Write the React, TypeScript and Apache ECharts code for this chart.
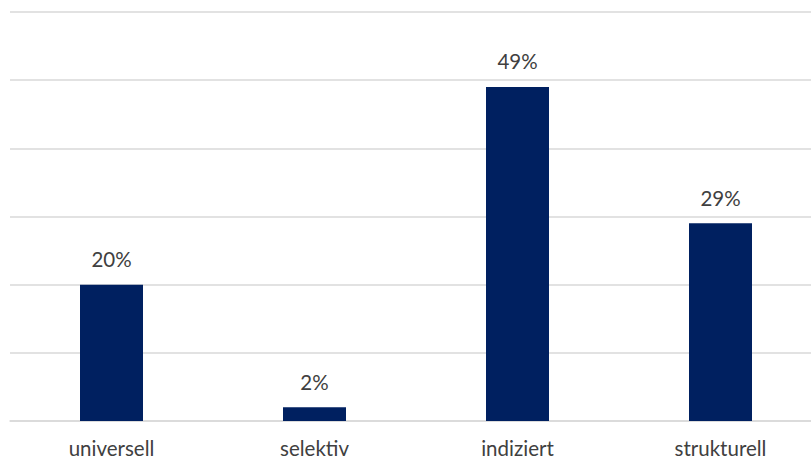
import React, { useEffect, useRef } from "react";
import * as echarts from "echarts";

const categories = ["universell", "selektiv", "indiziert", "strukturell"];
const shares = [20, 2, 49, 29];
const axisMax = 60;
const axisStep = 10;

export default function App() {
  const ref = useRef<HTMLDivElement>(null);

  useEffect(() => {
    if (!ref.current) return;
    const chart = echarts.init(ref.current, undefined, { renderer: "svg" });
    chart.setOption({
      animation: false,
      textStyle: { fontFamily: "Lato" },
      grid: { left: 10, right: 0, top: 12, bottom: 41, containLabel: false },
      xAxis: {
        type: "category",
        data: categories,
        axisLine: { show: true, lineStyle: { color: "#d9d9d9", width: 1.5 } },
        axisTick: { show: false },
        axisLabel: { color: "#404040", fontSize: 20.5, margin: 16 },
      },
      yAxis: {
        type: "value",
        min: 0,
        max: axisMax,
        interval: axisStep,
        axisLabel: { show: false },
        axisLine: { show: false },
        axisTick: { show: false },
        splitLine: { lineStyle: { color: "#d9d9d9", width: 1.5 } },
      },
      series: [
        {
          type: "bar",
          data: shares,
          barWidth: 63,
          itemStyle: { color: "#002060" },
          label: {
            show: true,
            position: "top",
            distance: 15,
            color: "#404040",
            fontSize: 20.5,
            formatter: "{c}%",
          },
        },
      ],
    });
    return () => chart.dispose();
  }, []);

  // The plot runs 11px past the right edge, so the chart div is wider than the visible frame.
  return (
    <div style={{ position: "fixed", left: 0, top: 0, width: 811, height: 462, overflow: "hidden", background: "#fff" }}>
      <div ref={ref} style={{ width: 822, height: 462 }} />
    </div>
  );
}
